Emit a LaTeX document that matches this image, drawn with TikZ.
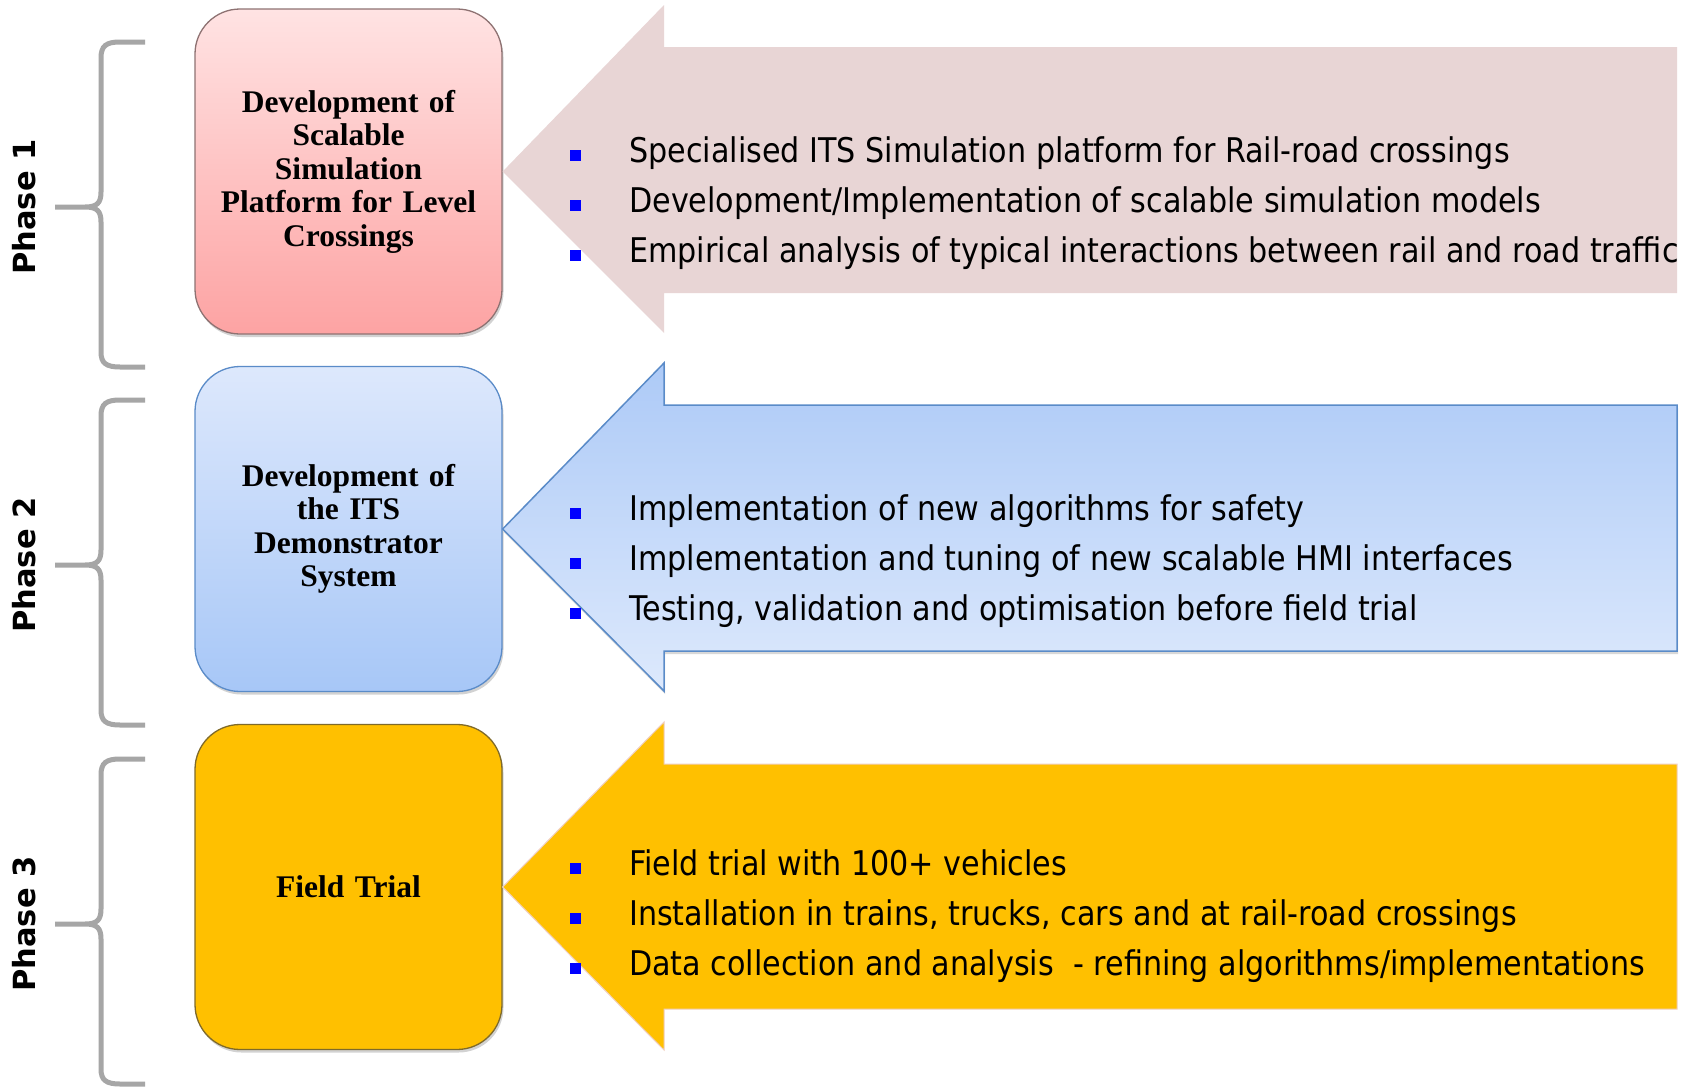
\documentclass[tikz,border=0pt]{standalone}
\usepackage{fontspec}
\setmainfont{Liberation Serif}
\newfontfamily\itemfont[FakeStretch=0.888]{DejaVu Sans}
\newfontfamily\phasefont{DejaVu Sans}
\usetikzlibrary{shadows}

\definecolor{bracegray}{HTML}{A6A6A6}
\definecolor{pinktop}{HTML}{FFE3E3}
\definecolor{pinkbot}{HTML}{FDA3A3}
\definecolor{pinkedge}{HTML}{8E7272}
\definecolor{pinkarrow}{HTML}{E8D5D5}
\definecolor{bluetop}{HTML}{DDE8FC}
\definecolor{bluebot}{HTML}{A7C7F7}
\definecolor{blueedge}{HTML}{5A8BC8}
\definecolor{bluearrowtop}{HTML}{ADCAF7}
\definecolor{bluearrowbot}{HTML}{DDE9FC}
\definecolor{gold}{HTML}{FFC000}
\definecolor{goldedge}{HTML}{7F6A2A}
\definecolor{goldarrowedge}{HTML}{F0CFC0}
\definecolor{bulletblue}{HTML}{0000FF}

\tikzset{
  braceline/.style={draw=bracegray, line width=5pt},
  phaselabel/.style={font=\phasefont\bfseries\fontsize{30.5}{36}\selectfont, rotate=90, inner sep=0pt},
  phasebox/.style={rounded corners=45pt, line width=1.3pt, minimum width=307pt,
    minimum height=325pt, inner sep=0pt, text width=280pt, align=center,
    font=\bfseries\fontsize{31.5}{33.5}\selectfont,
    drop shadow={opacity=0.35, shadow xshift=1.5pt, shadow yshift=-3pt}},
  bulletsq/.style={fill=bulletblue, minimum size=11pt, inner sep=0pt},
  itemtext/.style={anchor=base west, inner sep=0pt, font=\itemfont\fontsize{34}{40}\selectfont},
  pics/phasebrace/.style={code={
    \draw[braceline] (145,42) -- (120,42) .. controls (106,42) and (101,46) .. (101,58)
      -- (101,192) .. controls (101,203) and (97,207) .. (85,207) -- (55,207)
      (85,207) .. controls (97,207) and (101,211) .. (101,222)
      -- (101,352) .. controls (101,363) and (106,367) .. (120,367) -- (145,367);
  }}
}

\begin{document}
\begin{tikzpicture}[x=1pt, y=-1pt]
\useasboundingbox[fill=white] (0,0) rectangle (1687,1087);

% phase braces and labels
\pic at (0,0) {phasebrace};
\pic at (0,358) {phasebrace};
\pic at (0,717) {phasebrace};
\node[phaselabel] (ph1) at (24,207) {Phase 1};
\node[phaselabel] (ph2) at (24,565) {Phase 2};
\node[phaselabel] (ph3) at (24,924) {Phase 3};

% phase boxes
\node[phasebox, top color=pinktop, bottom color=pinkbot, draw=pinkedge] (box1) at (348.5,171.5)
  {Development of\\Scalable\\Simulation\\Platform for Level\\Crossings};
\node[phasebox, top color=bluetop, bottom color=bluebot, draw=blueedge] (box2) at (348.5,529)
  {Development of\\the ITS\\Demonstrator\\System};
\node[phasebox, fill=gold, draw=goldedge] (box3) at (348.5,887)
  {Field Trial};

% block arrows pointing at the boxes
\fill[pinkarrow] (box1.east) -- (664,5) -- (664,47) -- (1677,47) -- (1677,293)
  -- (664,293) -- (664,333) -- cycle;
\path[top color=bluearrowtop, bottom color=bluearrowbot, draw=blueedge, line width=1.5pt,
  line join=miter, drop shadow={opacity=0.3, shadow xshift=1pt, shadow yshift=-3pt}]
  (box2.east) -- (664,363) -- (664,405) -- (1677,405) -- (1677,651)
  -- (664,651) -- (664,691) -- cycle;
\path[fill=gold, draw=goldarrowedge, line width=1pt]
  (box3.east) -- (664,722) -- (664,764) -- (1677,764) -- (1677,1009)
  -- (664,1009) -- (664,1050) -- cycle;

% bullet items, phase 1
\node[bulletsq] (b11) at (575.5,155) {};
\node[bulletsq] (b12) at (575.5,205) {};
\node[bulletsq] (b13) at (575.5,255) {};
\node[itemtext] (t11) at (629,162) {Specialised ITS Simulation platform for Rail-road crossings};
\node[itemtext] (t12) at (629,212) {Development/Implementation of scalable simulation models};
\node[itemtext] (t13) at (629,262) {Empirical analysis of typical interactions between rail and road traffic};

% bullet items, phase 2
\node[bulletsq] (b21) at (575.5,513) {};
\node[bulletsq] (b22) at (575.5,563) {};
\node[bulletsq] (b23) at (575.5,613) {};
\node[itemtext] (t21) at (629,520) {Implementation of new algorithms for safety};
\node[itemtext] (t22) at (629,570) {Implementation and tuning of new scalable HMI interfaces};
\node[itemtext] (t23) at (629,620) {Testing, validation and optimisation before field trial};

% bullet items, phase 3
\node[bulletsq] (b31) at (575.5,868) {};
\node[bulletsq] (b32) at (575.5,918) {};
\node[bulletsq] (b33) at (575.5,968) {};
\node[itemtext] (t31) at (629,875) {Field trial with 100+ vehicles};
\node[itemtext] (t32) at (629,925) {Installation in trains, trucks, cars and at rail-road crossings};
\node[itemtext] (t33) at (629,975) {Data collection and analysis~ - refining algorithms/implementations};
\end{tikzpicture}
\end{document}
